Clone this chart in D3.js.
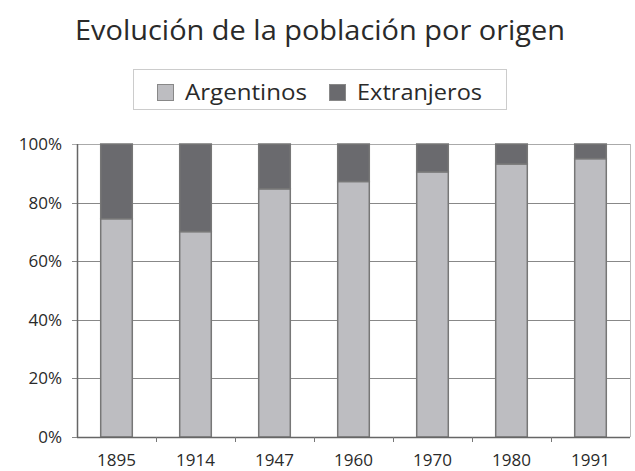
<!DOCTYPE html>
<html>
<head>
<meta charset="utf-8">
<script src="https://cdn.jsdelivr.net/npm/d3@7"></script>
<style>
  body { margin: 0; background: #fff; }
  text { font-family: "Open Sans", "Noto Sans", sans-serif; fill: #2a2a2a; }
</style>
</head>
<body>
<div id="chart"></div>
<script>
// data
var years = ["1895", "1914", "1947", "1960", "1970", "1980", "1991"];
var argentinos = [74.5, 70.1, 84.7, 87.2, 90.5, 93.2, 95.0];
var extranjeros = [25.5, 29.9, 15.3, 12.8, 9.5, 6.8, 5.0];
var yTicks = [0, 20, 40, 60, 80, 100];
var seriesNames = ["Argentinos", "Extranjeros"];

var color = d3.scaleOrdinal(seriesNames, ["#bdbdc1", "#6a6a6e"]);

var width = 635, height = 471;
var margin = {top: 144, right: 5, bottom: 34, left: 77};
var iw = width - margin.left - margin.right;
var ih = height - margin.top - margin.bottom;

var svg = d3.select("#chart").append("svg")
	.attr("width", width)
	.attr("height", height);

// title
svg.append("text")
	.attr("x", 320)
	.attr("y", 40)
	.attr("text-anchor", "middle")
	.style("font-size", "28px")
	.attr("textLength", 490)
	.attr("lengthAdjust", "spacingAndGlyphs")
	.text("Evolución de la población por origen");

// legend
var legend = svg.append("g");
legend.append("rect")
	.attr("x", 133.5).attr("y", 69.5)
	.attr("width", 373).attr("height", 40)
	.attr("fill", "#fff")
	.attr("stroke", "#ccc");

var legX = [157, 329];
var legW = [122, 125];
seriesNames.forEach(function(n, i) {
	legend.append("rect")
		.attr("x", legX[i] + 0.5).attr("y", 84.5)
		.attr("width", 16).attr("height", 16)
		.attr("fill", color(n))
		.attr("stroke", "#888");
	legend.append("text")
		.attr("x", legX[i] + 28)
		.attr("y", 100)
		.style("font-size", "22px")
		.attr("textLength", legW[i])
		.attr("lengthAdjust", "spacingAndGlyphs")
		.text(n);
});

var g = svg.append("g")
	.attr("transform", "translate(" + margin.left + "," + margin.top + ")");

var x = d3.scaleBand().domain(years).range([0, iw]).paddingInner(0.6).paddingOuter(0.3);
var y = d3.scaleLinear().domain([0, 100]).range([ih, 0]);

// horizontal grid
g.append("g")
	.selectAll("line")
	.data(yTicks)
	.enter().append("line")
	.attr("x1", -5)
	.attr("x2", iw)
	.attr("y1", function(d) { return Math.round(y(d)) + 0.5; })
	.attr("y2", function(d) { return Math.round(y(d)) + 0.5; })
	.attr("stroke", function(d) { return d == 100 ? "#aaa" : "#888"; })
	.attr("stroke-width", 1.2);

// right border
g.append("line")
	.attr("x1", iw + 0.5).attr("x2", iw + 0.5)
	.attr("y1", 0).attr("y2", ih)
	.attr("stroke", "#bbb");

// y labels
g.append("g")
	.selectAll("text")
	.data(yTicks)
	.enter().append("text")
	.attr("x", -15)
	.attr("y", function(d) { return y(d) + 6; })
	.attr("text-anchor", "end")
	.style("font-size", "17px")
	.text(function(d) { return d + "%"; });

// stacked bars
var rows = years.map(function(yr, i) {
	return {year: yr, Argentinos: argentinos[i], Extranjeros: extranjeros[i]};
});
var stack = d3.stack().keys(seriesNames)(rows);

g.append("g")
	.selectAll("g")
	.data(stack)
	.enter().append("g")
	.attr("fill", function(d) { return color(d.key); })
	.selectAll("rect")
	.data(function(d) { return d; })
	.enter().append("rect")
	.attr("x", function(d) { return x(d.data.year); })
	.attr("y", function(d) { return y(d[1]); })
	.attr("width", x.bandwidth())
	.attr("height", function(d) { return y(d[0]) - y(d[1]); })
	.attr("stroke", "#777")
	.attr("stroke-width", 1.5);

// axes lines
g.append("line")
	.attr("x1", 0.5).attr("x2", 0.5)
	.attr("y1", 0).attr("y2", ih)
	.attr("stroke", "#666").attr("stroke-width", 1.5);
g.append("line")
	.attr("x1", 0).attr("x2", iw)
	.attr("y1", ih + 0.5).attr("y2", ih + 0.5)
	.attr("stroke", "#666").attr("stroke-width", 1.5);

// category separators under the axis
var gap = (x.step() - x.bandwidth()) / 2;
g.append("g")
	.selectAll("line")
	.data(years.slice(1))
	.enter().append("line")
	.attr("x1", function(d) { return Math.round(x(d) - gap) + 0.5; })
	.attr("x2", function(d) { return Math.round(x(d) - gap) + 0.5; })
	.attr("y1", ih).attr("y2", ih + 5)
	.attr("stroke", "#777");

// x labels
g.append("g")
	.selectAll("text")
	.data(years)
	.enter().append("text")
	.attr("x", function(d) { return x(d) + x.bandwidth() / 2; })
	.attr("y", ih + 29)
	.attr("text-anchor", "middle")
	.style("font-size", "17px")
	.text(function(d) { return d; });
</script>
</body>
</html>
